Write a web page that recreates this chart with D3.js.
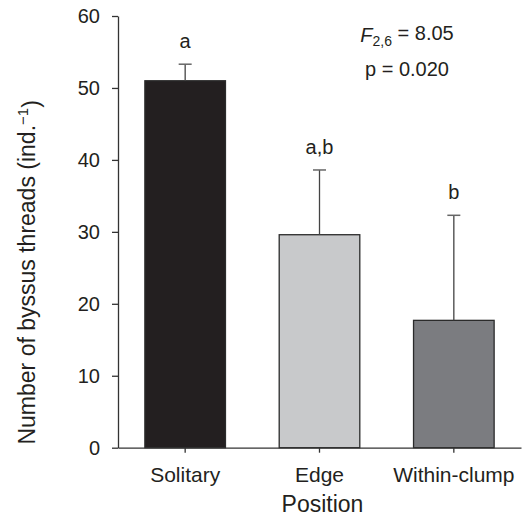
<!DOCTYPE html>
<html>
<head>
<meta charset="utf-8">
<script src="https://cdn.jsdelivr.net/npm/d3@7"></script>
<style>
  body { margin: 0; background: #fff; }
  svg { display: block; font-family: "Liberation Sans", Arial, sans-serif; }
</style>
</head>
<body>
<div id="chart"></div>
<script>
// data
const positions = ["Solitary", "Edge", "Within-clump"];
const means = [51.0, 29.6, 17.7];
const errTops = [53.3, 38.6, 32.3];
const groupLetters = ["a", "a,b", "b"];
const barColors = ["#231f20", "#c8c9cb", "#7b7c80"];
const yTicks = [0, 10, 20, 30, 40, 50, 60];

const width = 522, height = 517;
const margin = { top: 16, right: 1, bottom: 69.3, left: 118 };

const svg = d3.select("#chart").append("svg")
    .attr("width", width)
    .attr("height", height);

const x = d3.scaleBand()
    .domain(positions)
    .range([margin.left, width - margin.right])
    .paddingInner(0.4)
    .paddingOuter(0.2);

const y = d3.scaleLinear()
    .domain([0, 60])
    .range([height - margin.bottom, margin.top]);

const data = positions.map((p, i) => ({
    pos: p, mean: means[i], top: errTops[i], letter: groupLetters[i], color: barColors[i]
}));

// bars
svg.selectAll(".bar")
    .data(data)
    .enter()
    .append("rect")
    .attr("class", "bar")
    .attr("x", d => x(d.pos))
    .attr("y", d => y(d.mean))
    .attr("width", x.bandwidth())
    .attr("height", d => y(0) - y(d.mean))
    .attr("fill", d => d.color)
    .attr("stroke", "#2b2b2b")
    .attr("stroke-width", 1.3);

// error bars (upper only)
const cx = d => x(d.pos) + x.bandwidth() / 2;
svg.selectAll(".err")
    .data(data)
    .enter()
    .append("line")
    .attr("x1", cx).attr("x2", cx)
    .attr("y1", d => y(d.mean))
    .attr("y2", d => y(d.top))
    .attr("stroke", "#444")
    .attr("stroke-width", 1.3);

svg.selectAll(".cap")
    .data(data)
    .enter()
    .append("line")
    .attr("x1", d => cx(d) - 6.5).attr("x2", d => cx(d) + 6.5)
    .attr("y1", d => y(d.top)).attr("y2", d => y(d.top))
    .attr("stroke", "#666")
    .attr("stroke-width", 1.5);

// significance letters
svg.selectAll(".letter")
    .data(data)
    .enter()
    .append("text")
    .attr("x", cx)
    .attr("y", d => y(d.top) - 16)
    .attr("text-anchor", "middle")
    .style("font-size", "20px")
    .attr("fill", "#231f20")
    .text(d => d.letter);

// axes
const yAxis = d3.axisLeft(y).tickValues(yTicks).tickSize(6).tickPadding(12).tickSizeOuter(0);
const gy = svg.append("g")
    .attr("transform", `translate(${margin.left},0)`)
    .call(yAxis);

const xAxis = d3.axisBottom(x).tickSize(5).tickPadding(14).tickSizeOuter(0);
const gx = svg.append("g")
    .attr("transform", `translate(0,${y(0)})`)
    .call(xAxis);

[gy, gx].forEach(g => {
    g.selectAll("path, line").attr("stroke", "#333").attr("stroke-width", 1.3);
    g.selectAll("text").attr("fill", "#231f20").style("font-family", "inherit");
});
gy.selectAll("text").style("font-size", "20px");
gx.selectAll("text").style("font-size", "21px");

// axis titles
svg.append("text")
    .attr("x", (margin.left + width - margin.right) / 2 + 3)
    .attr("y", 512)
    .attr("text-anchor", "middle")
    .style("font-size", "23px")
    .attr("fill", "#231f20")
    .text("Position");

const yt = svg.append("text")
    .attr("transform", `translate(35,${(y(0) + 97) / 2}) rotate(-90)`)
    .attr("text-anchor", "middle")
    .style("font-size", "23px")
    .attr("fill", "#231f20");
yt.append("tspan").text("Number of byssus threads (ind.");
yt.append("tspan").attr("dy", "-0.5em").style("font-size", "15px").text("\u22121");
yt.append("tspan").attr("dy", "0.5em").text(")");

// statistics annotation
const stat = svg.append("text")
    .attr("x", 407)
    .attr("y", 42)
    .attr("text-anchor", "middle")
    .style("font-size", "20px")
    .attr("fill", "#231f20");
stat.append("tspan").style("font-style", "italic").text("F");
stat.append("tspan").attr("dy", "0.3em").style("font-size", "14px").text("2,6");
stat.append("tspan").attr("dy", "-0.3em").text(" = 8.05");

svg.append("text")
    .attr("x", 407)
    .attr("y", 76)
    .attr("text-anchor", "middle")
    .style("font-size", "20px")
    .attr("fill", "#231f20")
    .text("p = 0.020");
</script>
</body>
</html>
